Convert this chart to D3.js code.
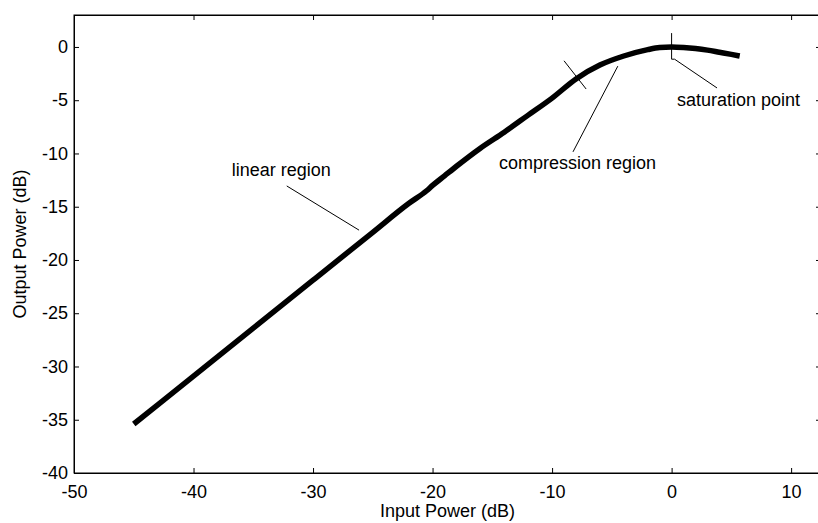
<!DOCTYPE html>
<html>
<head>
<meta charset="utf-8">
<title>Amplifier output vs input power</title>
<script src="https://d3js.org/d3.v7.min.js"></script>
<style>
body { margin: 0; background: #fff; }
text { font-family: "Liberation Sans", Arial, sans-serif; fill: #000; }
</style>
</head>
<body>
<div id="chart"></div>
<script type="text/javascript">
// curve (input dB -> output dB)
var inputPower  = [-45, -40, -35, -30, -25, -22, -20.5, -20, -19, -18, -16, -14, -12, -10, -8, -6, -4, -2, -1, 0, 1, 2, 3, 4, 5, 5.7];
var outputPower = [-35.4, -30.9, -26.4, -21.9, -17.4, -14.7, -13.5, -13.0, -12.1, -11.2, -9.5, -8.0, -6.4, -4.8, -3.0, -1.7, -0.85, -0.25, -0.05, 0, -0.05, -0.15, -0.3, -0.5, -0.7, -0.85];

var xTicks = [-50, -40, -30, -20, -10, 0, 10];
var yTicks = [0, -5, -10, -15, -20, -25, -30, -35, -40];

// annotation lines, in data units
var annotLines = [
  [[-32.2, -13.05], [-26.15, -17.2]],                  // linear region pointer
  [[-9.0, -1.3], [-7.15, -3.95]],                      // compression tick
  [[-4.5, -1.8], [-8.25, -9.85]],                      // compression pointer
  [[0, 1.3], [0, -1.15], [0.25, -1.15], [3.8, -3.85]]  // saturation marker
];
var annotText = ["linear region", "compression region", "saturation point"];
var annotPos  = [[-36.8, -11.55], [-14.45, -10.9], [0.45, -4.98]];

var W = 818, H = 523;
var margin = {top: 15, right: -3, bottom: 50, left: 74};
var fontSize = "18px";

var svg = d3.select("#chart")
  .append("svg")
    .attr("width", W)
    .attr("height", H);

var x = d3.scaleLinear()
    .domain([-50, 12.5])
    .range([margin.left, W - margin.right]);

var y = d3.scaleLinear()
    .domain([-40, 3])
    .range([H - margin.bottom, margin.top]);

var tickLen = 5;
var fmt = function(d) { return String(d); };  // plain hyphen, like matlab

// frame
svg.append("rect")
    .attr("x", x(-50)).attr("y", y(3))
    .attr("width", x(12.5) - x(-50))
    .attr("height", y(-40) - y(3))
    .attr("fill", "none")
    .attr("stroke", "#000")
    .attr("stroke-width", 1);

// axes with inward ticks
svg.append("g")
    .attr("transform", "translate(0," + y(-40) + ")")
    .call(d3.axisBottom(x).tickValues(xTicks).tickSize(-tickLen).tickPadding(12).tickFormat(fmt).tickSizeOuter(0));
svg.append("g")
    .attr("transform", "translate(0," + y(3) + ")")
    .call(d3.axisTop(x).tickValues(xTicks).tickSize(-tickLen).tickFormat("").tickSizeOuter(0));

svg.append("g")
    .attr("transform", "translate(" + x(-50) + ",0)")
    .call(d3.axisLeft(y).tickValues(yTicks).tickSize(-tickLen).tickPadding(6).tickFormat(fmt).tickSizeOuter(0));
svg.append("g")
    .attr("transform", "translate(" + x(12.5) + ",0)")
    .call(d3.axisRight(y).tickValues(yTicks).tickSize(-tickLen).tickFormat("").tickSizeOuter(0));

svg.selectAll(".domain").attr("stroke", "#000");
svg.selectAll(".tick line").attr("stroke", "#000");
svg.selectAll(".tick text")
    .style("font-size", fontSize)
    .style("font-family", "'Liberation Sans', Arial, sans-serif");

// axis titles
svg.append("text")
    .attr("x", (x(-50) + x(12.5)) / 2)
    .attr("y", 511)
    .attr("dy", "0.35em")
    .attr("text-anchor", "middle")
    .style("font-size", fontSize)
    .text("Input Power (dB)");

svg.append("text")
    .attr("transform", "translate(20," + (y(-40) + y(3)) / 2 + ") rotate(-90)")
    .attr("dy", "0.35em")
    .attr("text-anchor", "middle")
    .style("font-size", fontSize)
    .text("Output Power (dB)");

// the curve
var pts = inputPower.map(function(d, i) { return [d, outputPower[i]]; });
var line = d3.line()
    .x(function(d) { return x(d[0]); })
    .y(function(d) { return y(d[1]); })
    .curve(d3.curveMonotoneX);

svg.append("path")
    .datum(pts)
    .attr("d", line)
    .attr("fill", "none")
    .attr("stroke", "#000")
    .attr("stroke-width", 5.5)
    .attr("stroke-linejoin", "round");

// annotations
var plain = d3.line()
    .x(function(d) { return x(d[0]); })
    .y(function(d) { return y(d[1]); });

svg.selectAll(".annot")
  .data(annotLines)
  .enter().append("path")
    .attr("class", "annot")
    .attr("d", plain)
    .attr("fill", "none")
    .attr("stroke", "#000")
    .attr("stroke-width", 1);

svg.selectAll(".label")
  .data(annotText)
  .enter().append("text")
    .attr("class", "label")
    .attr("x", function(d, i) { return x(annotPos[i][0]); })
    .attr("y", function(d, i) { return y(annotPos[i][1]); })
    .attr("dy", "0.35em")
    .style("font-size", fontSize)
    .text(function(d) { return d; });
</script>
</body>
</html>
